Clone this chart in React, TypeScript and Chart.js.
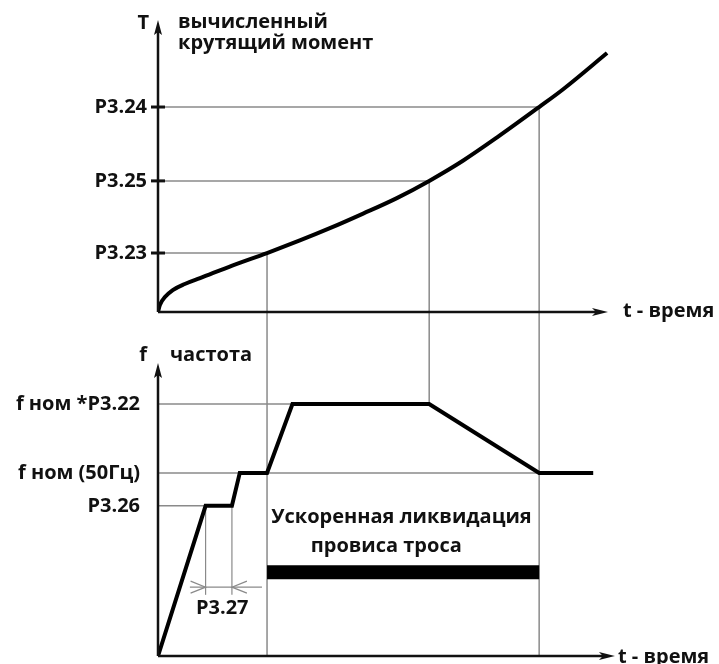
import React, { useEffect, useRef } from 'react';
import { Chart, registerables } from 'chart.js';

Chart.register(...registerables);

const FONT = '"Open Sans", "DejaVu Sans", sans-serif';
const BOLD = `bold 20px ${FONT}`;
const INK = '#111111';
const GUIDE = '#8a8a8a';

// ---------- top panel: computed torque ----------
const torqueTime = [0, 0.4, 1.5, 3.2, 5.8, 9.1, 16.2, 23.6, 30.7, 37.2, 44.4, 51.7, 58.7, 66.0, 73.4, 82.5, 87.7, 97.2];
const torqueValue = [0, 2.4, 5.1, 7.5, 9.6, 11.6, 16.0, 20.2, 24.5, 28.7, 33.7, 39.0, 44.9, 51.8, 59.8, 70.2, 76.3, 88.7];
const torqueTickLabels = ['P3.23', 'P3.25', 'P3.24'];
const torqueTickValues = [20.2, 44.9, 70.2];
const torqueCrossTimes = [23.6, 58.7, 82.5];

// ---------- bottom panel: frequency ----------
const freqTime = [0, 10.3, 16.0, 17.7, 23.6, 29.1, 58.7, 82.5, 94.2];
const freqValue = [0, 41, 41, 50, 50, 68.8, 68.8, 50, 50];
const freqTickLabels = ['P3.26', 'f ном (50Гц)', 'f ном *P3.22'];
const freqTickValues = [41, 50, 68.8];
const freqGuideEnds = [10.3, 82.5, 29.1];
const linkTimes = [23.6, 58.7, 82.5];
const linkLowerLevels = [0, 68.8, 0];
const sagTime = [23.6, 82.5];
const sagLevel = [22.9, 22.9];
const dwellTimes = [10.3, 16.0];
const dwellDimLevel = 18.8;
const dwellExtLevel = 16.7;
const dwellDimSpan = [6.9, 22.5];

function arrowUp(ctx: CanvasRenderingContext2D, x: number, y: number) {
  ctx.beginPath();
  ctx.moveTo(x, y);
  ctx.lineTo(x - 4, y + 15);
  ctx.lineTo(x, y + 12);
  ctx.lineTo(x + 4, y + 15);
  ctx.closePath();
  ctx.fill();
}
function arrowRight(ctx: CanvasRenderingContext2D, x: number, y: number) {
  ctx.beginPath();
  ctx.moveTo(x, y);
  ctx.lineTo(x - 16, y - 4);
  ctx.lineTo(x - 12, y);
  ctx.lineTo(x - 16, y + 4);
  ctx.closePath();
  ctx.fill();
}

const topPlugin = {
  id: 'topDeco',
  beforeDatasetsDraw(chart: any) {
    const { ctx, scales } = chart;
    const x = scales.x, y = scales.y;
    ctx.save();
    ctx.strokeStyle = GUIDE;
    ctx.lineWidth = 1.5;
    torqueTickValues.forEach((v, i) => {
      const py = y.getPixelForValue(v);
      const px = x.getPixelForValue(torqueCrossTimes[i]);
      ctx.beginPath();
      ctx.moveTo(x.getPixelForValue(0), py);
      ctx.lineTo(px, py);
      ctx.moveTo(px, py);
      ctx.lineTo(px, chart.height);
      ctx.stroke();
    });
    ctx.restore();
  },
  afterDatasetsDraw(chart: any) {
    const { ctx, scales, chartArea } = chart;
    const x = scales.x, y = scales.y;
    const x0 = x.getPixelForValue(0);
    const y0 = y.getPixelForValue(0);
    ctx.save();
    ctx.strokeStyle = INK;
    ctx.fillStyle = INK;
    ctx.lineWidth = 2.5;
    ctx.beginPath();
    ctx.moveTo(x0, y0);
    ctx.lineTo(x0, chartArea.top + 10);
    ctx.stroke();
    arrowUp(ctx, x0, chartArea.top);
    const xEnd = x.getPixelForValue(97.4);
    ctx.beginPath();
    ctx.moveTo(x0, y0);
    ctx.lineTo(xEnd - 10, y0);
    ctx.stroke();
    arrowRight(ctx, xEnd, y0);
    // tick marks across axis
    ctx.lineWidth = 3;
    torqueTickValues.forEach((v) => {
      const py = y.getPixelForValue(v);
      ctx.beginPath();
      ctx.moveTo(x0 - 7, py);
      ctx.lineTo(x0 + 7, py);
      ctx.stroke();
    });
    ctx.font = BOLD;
    ctx.textBaseline = 'middle';
    ctx.textAlign = 'right';
    ctx.fillText('T', x0 - 9, chartArea.top + 3);
    ctx.textAlign = 'left';
    ctx.fillText('вычисленный', x0 + 20, chartArea.top + 2);
    ctx.fillText('крутящий момент', x0 + 20, chartArea.top + 23);
    ctx.fillText('t - время', xEnd + 15, y0 - 1);
    ctx.restore();
  },
};

const bottomPlugin = {
  id: 'bottomDeco',
  beforeDatasetsDraw(chart: any) {
    const { ctx, scales } = chart;
    const x = scales.x, y = scales.y;
    const x0 = x.getPixelForValue(0);
    ctx.save();
    ctx.strokeStyle = GUIDE;
    ctx.lineWidth = 1.5;
    freqTickValues.forEach((v, i) => {
      const py = y.getPixelForValue(v);
      ctx.beginPath();
      ctx.moveTo(x0, py);
      ctx.lineTo(x.getPixelForValue(freqGuideEnds[i]), py);
      ctx.stroke();
    });
    linkTimes.forEach((t, i) => {
      const px = x.getPixelForValue(t);
      ctx.beginPath();
      ctx.moveTo(px, 0);
      ctx.lineTo(px, y.getPixelForValue(linkLowerLevels[i]));
      ctx.stroke();
    });
    // P3.27 dimension
    ctx.lineWidth = 1.2;
    const dimY = y.getPixelForValue(dwellDimLevel);
    dwellTimes.forEach((t) => {
      const px = x.getPixelForValue(t);
      ctx.beginPath();
      ctx.moveTo(px, y.getPixelForValue(41));
      ctx.lineTo(px, y.getPixelForValue(dwellExtLevel));
      ctx.stroke();
    });
    ctx.beginPath();
    ctx.moveTo(x.getPixelForValue(dwellDimSpan[0]), dimY);
    ctx.lineTo(x.getPixelForValue(dwellDimSpan[1]), dimY);
    ctx.stroke();
    const a = x.getPixelForValue(dwellTimes[0]);
    const b = x.getPixelForValue(dwellTimes[1]);
    ctx.beginPath();
    ctx.moveTo(a - 15, dimY - 6);
    ctx.lineTo(a, dimY);
    ctx.lineTo(a - 15, dimY + 6);
    ctx.moveTo(b + 15, dimY - 6);
    ctx.lineTo(b, dimY);
    ctx.lineTo(b + 15, dimY + 6);
    ctx.stroke();
    ctx.restore();
  },
  afterDatasetsDraw(chart: any) {
    const { ctx, scales, chartArea } = chart;
    const x = scales.x, y = scales.y;
    const x0 = x.getPixelForValue(0);
    const y0 = y.getPixelForValue(0);
    ctx.save();
    ctx.strokeStyle = INK;
    ctx.fillStyle = INK;
    ctx.lineWidth = 2.5;
    ctx.beginPath();
    ctx.moveTo(x0, y0);
    ctx.lineTo(x0, chartArea.top + 10);
    ctx.stroke();
    arrowUp(ctx, x0, chartArea.top);
    const xEnd = x.getPixelForValue(98.9);
    ctx.beginPath();
    ctx.moveTo(x0, y0);
    ctx.lineTo(xEnd - 10, y0);
    ctx.stroke();
    arrowRight(ctx, xEnd, y0);
    ctx.font = BOLD;
    ctx.textBaseline = 'middle';
    ctx.textAlign = 'center';
    ctx.fillText('f', x0 - 15, chartArea.top - 8);
    ctx.textAlign = 'left';
    ctx.fillText('частота', x0 + 12, chartArea.top - 8);
    ctx.fillText('t - время', xEnd + 3, y0 + 1);
    ctx.textAlign = 'center';
    ctx.fillText('Ускоренная ликвидация', x.getPixelForValue(52.7), y.getPixelForValue(37.9));
    ctx.fillText('провиса троса', x.getPixelForValue(49.4), y.getPixelForValue(30.0));
    ctx.fillText('P3.27', x.getPixelForValue(13.9), y.getPixelForValue(13.1));
    ctx.restore();
  },
};

function yScale(values: number[], labels: string[], max: number, pad: number) {
  return {
    type: 'linear' as const,
    min: 0,
    max,
    afterFit: (s: any) => {
      s.width = 158;
      s.paddingTop = 0;
      s.paddingBottom = 0;
    },
    afterBuildTicks: (s: any) => {
      s.ticks = values.map((v) => ({ value: v }));
    },
    grid: { display: false, drawTicks: false },
    border: { display: false },
    ticks: {
      autoSkip: false,
      padding: pad,
      color: INK,
      font: { family: FONT, size: 20, weight: 'bold' as const },
      callback: (v: any) => {
        const i = values.indexOf(Number(v));
        return i >= 0 ? labels[i] : '';
      },
    },
  };
}

export default function App() {
  const topRef = useRef<HTMLCanvasElement>(null);
  const botRef = useRef<HTMLCanvasElement>(null);

  useEffect(() => {
    const common = {
      responsive: false,
      animation: false as const,
      devicePixelRatio: 1,
      plugins: { legend: { display: false }, tooltip: { enabled: false }, title: { display: false } },
    };
    const top = new Chart(topRef.current!, {
      type: 'line',
      data: {
        datasets: [
          {
            data: torqueTime.map((t, i) => ({ x: t, y: torqueValue[i] })),
            borderColor: '#000',
            borderWidth: 4,
            pointRadius: 0,
            tension: 0.4,
            cubicInterpolationMode: 'monotone',
            fill: false,
          },
        ],
      },
      options: {
        ...common,
        layout: { padding: { left: 0, right: 99, top: 20, bottom: 18 } },
        scales: {
          x: { type: 'linear', min: 0, max: 100, display: false },
          y: yScale(torqueTickValues, torqueTickLabels, 100, 11),
        },
      } as any,
      plugins: [topPlugin],
    });
    const bot = new Chart(botRef.current!, {
      type: 'line',
      data: {
        datasets: [
          {
            data: freqTime.map((t, i) => ({ x: t, y: freqValue[i] })),
            borderColor: '#000',
            borderWidth: 4,
            pointRadius: 0,
            tension: 0,
            fill: false,
          },
          {
            data: sagTime.map((t, i) => ({ x: t, y: sagLevel[i] })),
            borderColor: '#000',
            borderWidth: 14,
            borderCapStyle: 'butt',
            pointRadius: 0,
            fill: false,
          },
        ],
      },
      options: {
        ...common,
        layout: { padding: { left: 0, right: 99, top: 33, bottom: 8 } },
        scales: {
          x: { type: 'linear', min: 0, max: 100, display: false },
          y: yScale(freqTickValues, freqTickLabels, 80, 18),
        },
      } as any,
      plugins: [bottomPlugin],
    });
    return () => {
      top.destroy();
      bot.destroy();
    };
  }, []);

  return (
    <div style={{ position: 'absolute', left: 0, top: 0, width: 719, height: 664, background: '#fff', overflow: 'hidden' }}>
      <canvas ref={topRef} width={719} height={330} style={{ display: 'block', width: 719, height: 330 }} />
      <canvas ref={botRef} width={719} height={334} style={{ display: 'block', width: 719, height: 334 }} />
    </div>
  );
}
